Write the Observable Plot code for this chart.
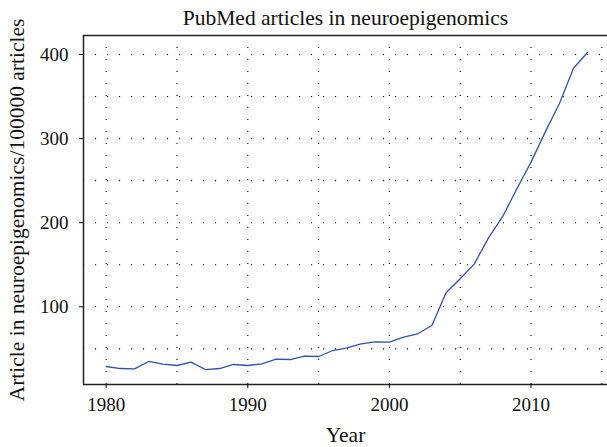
<!DOCTYPE html>
<html><head><meta charset="utf-8">
<script src="https://cdn.jsdelivr.net/npm/d3@7"></script>
<script src="https://cdn.jsdelivr.net/npm/@observablehq/plot@0.6"></script>
<style>body{margin:0;background:#fff}</style>
</head><body><div id="chart"></div>
<script>
const years = [1980,1981,1982,1983,1984,1985,1986,1987,1988,1989,1990,1991,1992,1993,1994,1995,1996,1997,1998,1999,2000,2001,2002,2003,2004,2005,2006,2007,2008,2009,2010,2011,2012,2013,2014];
const values = [29.0,26.6,26.2,35.0,31.8,30.2,34.2,25.4,26.6,31.4,30.2,32.2,37.7,37.3,41.3,40.9,48.0,51.2,56.0,58.4,58.0,63.9,67.9,77.8,116.6,133.3,151.1,182.0,207.4,240.3,272.0,307.7,341.4,383.7,402.7];
const xTicks = [1980,1990,2000,2010];
const yTicks = [100,200,300,400];
const xGrid = [1980,1985,1990,1995,2000,2005,2010,2015];
const yGrid = [50,100,150,200,250,300,350,400];
const xDomain = [1978.4,2015.4];
const yDomain = [7.6,422.6];
const title = "PubMed articles in neuroepigenomics";
const xLabel = "Year";
const yLabel = "Article in neuroepigenomics/100000 articles";

const data = years.map((year,i)=>({year, value: values[i]}));
const font = "'Liberation Serif', 'DejaVu Serif', serif";
const gridStyle = {stroke:"#000", strokeWidth:1.1, strokeDasharray:"1.1,10.9"};
const chart = Plot.plot({
  width:607, height:447,
  marginTop:35, marginBottom:63, marginLeft:83, marginRight:0,
  style:{fontFamily:font, fontSize:"19px", color:"#111", background:"#fff"},
  x:{domain:xDomain},
  y:{domain:yDomain},
  marks:[
    Plot.ruleX(xGrid, gridStyle),
    Plot.ruleY(yGrid, gridStyle),
    Plot.ruleY([yDomain[1]], {stroke:"#222", strokeWidth:1.5}),
    Plot.ruleY([yDomain[0]], {stroke:"#222", strokeWidth:1.5}),
    Plot.ruleX([xDomain[0]], {stroke:"#222", strokeWidth:1.5}),
    Plot.axisY(yTicks, {tickSize:4, tickPadding:11, label:null, fontSize:19}),
    Plot.axisX(xTicks, {tickSize:4, tickPadding:9, label:null, tickFormat:"d", fontSize:19}),
    Plot.line(data, {x:"year", y:"value", stroke:"#3452a8", strokeWidth:1.3}),
    Plot.text([title], {frameAnchor:"top", dy:-17, fontSize:21.5, lineAnchor:"middle", textAnchor:"middle"}),
    Plot.text([xLabel], {frameAnchor:"bottom", dy:51, fontSize:21.5, lineAnchor:"middle", textAnchor:"middle"}),
    Plot.text([yLabel], {frameAnchor:"left", dx:-66, rotate:-90, fontSize:21.5, lineAnchor:"middle", textAnchor:"middle"})
  ]
});
document.getElementById("chart").append(chart);
</script>
</body></html>
